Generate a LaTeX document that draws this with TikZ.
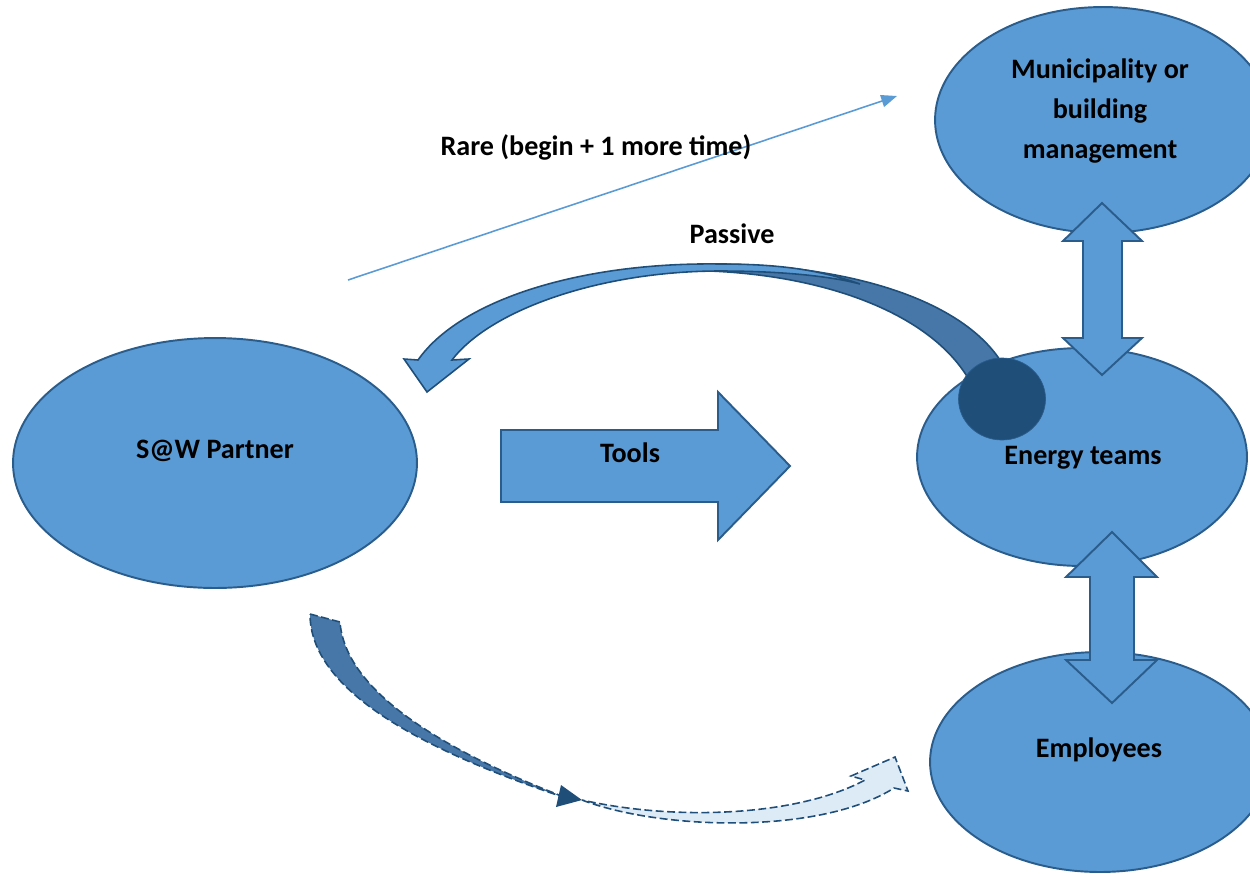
\documentclass[tikz,border=0pt]{standalone}
\usepackage{fontspec}
\setmainfont{Carlito}
\usetikzlibrary{arrows.meta,shapes.geometric}

\definecolor{blobfill}{HTML}{5B9BD5}
\definecolor{blobline}{HTML}{2A5D8C}
\definecolor{darkblue}{HTML}{1F4E79}
\definecolor{backblue}{HTML}{4677A8}
\definecolor{paleblue}{HTML}{DDEBF7}

\begin{document}
\begin{tikzpicture}[x=0.02cm,y=-0.02cm,
    blob/.style={ellipse,draw=blobline,fill=blobfill,line width=1.1pt,inner sep=0pt},
    block/.style={draw=blobline,fill=blobfill,line width=1.1pt,line join=miter},
    lbl/.style={font=\fontsize{16}{22.8}\selectfont\bfseries,align=center,inner sep=0pt},
    dashline/.style={draw=darkblue,line width=0.9pt,dash pattern=on 4.5pt off 2pt}]
    \useasboundingbox (0,0) rectangle (1250,873);

    % the four ellipses
    \node[blob,minimum width=8.08cm,minimum height=5cm] (saw) at (215,463) {};
    \node[blob,minimum width=6.72cm,minimum height=4.52cm] (muni) at (1103,120) {};
    \node[blob,minimum width=6.6cm,minimum height=4.36cm] (energy) at (1082,457) {};
    \node[blob,minimum width=6.8cm,minimum height=4.4cm] (emp) at (1100,762) {};

    \node[lbl] (sawtext) at (215,451) {S@W Partner};
    \node[lbl] (munitext) at (1100,111) {Municipality or\\building\\management};
    \node[lbl] (energytext) at (1083,458) {Energy teams};
    \node[lbl] (emptext) at (1099,750) {Employees};

    % tools block arrow
    \draw[block] (501,430) -- (718,430) -- (718,392) -- (790,466)
        -- (718,540) -- (718,502) -- (501,502) -- cycle;
    \node[lbl] (tools) at (630,453) {Tools};

    % thin rare arrow
    \coordinate (rarefrom) at (348,280);
    \coordinate (rareto) at (897,96);
    \draw[blobfill,line width=0.9pt,-{Triangle[length=9pt,width=7pt]}] (rarefrom) -- (rareto);
    \node[lbl] (rare) at (596,147) {Rare (begin + 1 more time)};

    % passive curved arrow, back side first
    \draw[draw=darkblue,fill=backblue,line width=0.9pt]
        (710,264) .. controls (850,264) and (960,300) .. (1000,360)
        -- (968,378) .. controls (930,315) and (830,276) .. (710,271) -- cycle;
    \draw[block,draw=darkblue,line width=0.9pt]
        (860,284) .. controls (820,270) and (780,264) .. (720,264)
        .. controls (580,262) and (460,300) .. (418,360)
        -- (404,359) -- (427,392) -- (469,359) -- (452,360)
        .. controls (490,310) and (600,271) .. (720,271)
        .. controls (780,271) and (830,276) .. (860,284);
    \node[lbl] (passive) at (732,234) {Passive};
    \node[ellipse,fill=darkblue,draw=blobline,minimum width=1.74cm,minimum height=1.64cm,
        inner sep=0pt] (dot) at (1002,399) {};

    % double arrows between the teams
    \draw[block] (1102,203) -- (1142,241) -- (1122,241) -- (1122,338) -- (1142,338)
        -- (1102,375) -- (1063,338) -- (1083,338) -- (1083,241) -- (1063,241) -- cycle;
    \draw[block] (1112,532) -- (1157,577) -- (1134,577) -- (1134,660) -- (1157,660)
        -- (1112,703) -- (1066,660) -- (1090,660) -- (1090,577) -- (1066,577) -- cycle;

    % dashed curved arrow at the bottom
    \draw[dashline,fill=backblue]
        (310,614) -- (340,622) .. controls (345,690) and (440,750) .. (572,800)
        .. controls (420,750) and (310,690) .. (310,614) -- cycle;
    \fill[darkblue] (561,785) -- (582,800) -- (556,807) -- cycle;
    \draw[dashline,fill=paleblue]
        (582,800) .. controls (660,830) and (820,835) .. (894,788)
        -- (908,791) -- (895,757) -- (851,776) -- (865,780)
        .. controls (800,815) and (680,822) .. (582,800) -- cycle;
\end{tikzpicture}
\end{document}
